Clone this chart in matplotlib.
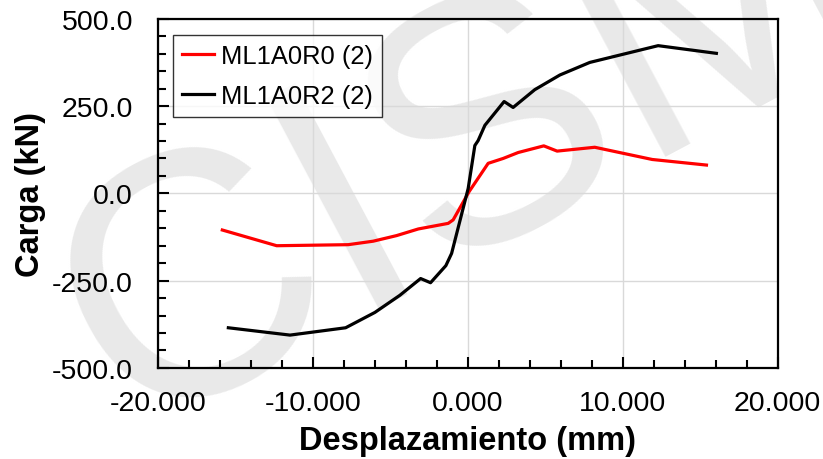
import matplotlib.pyplot as plt
from matplotlib.ticker import MultipleLocator, FormatStrFormatter

plt.rcParams['font.family'] = ['Liberation Sans', 'DejaVu Sans']

# curva carga-desplazamiento, muro ML1A0R0 (2)
r0_x = [-15.85, -12.34, -7.72, -6.11, -4.6, -3.2, -1.27, -0.95, 0.08, 1.31, 2.28, 3.25, 4.9, 5.76, 8.19, 11.9, 15.4]
r0_y = [-105, -150, -147, -137, -121, -102, -86, -76, 5, 86, 100, 117, 136, 121, 132, 97, 81]

# curva carga-desplazamiento, muro ML1A0R2 (2)
r2_x = [-15.46, -11.48, -7.89, -6.0, -4.39, -3.05, -2.41, -1.42, -1.05, 0.02, 0.45, 0.66, 1.1, 2.34, 2.92, 4.32, 5.94, 7.87, 12.28, 16.04]
r2_y = [-385, -406, -385, -341, -292, -244, -256, -207, -172, 14, 137, 151, 195, 263, 246, 297, 339, 375, 423, 401]

fig = plt.figure(figsize=(8.23, 4.6), dpi=100)

# marca de agua, detras de todo
fig.text(0.156, 0.057, 'CISM', fontsize=250, color='#e9e9e9', rotation=28,
         rotation_mode='anchor', ha='left', va='baseline', zorder=-1)

ax = fig.add_axes([0.192, 0.198, 0.753, 0.759])
ax.patch.set_alpha(0)

ax.plot(r0_x, r0_y, color='#ff0000', lw=2.3, label='ML1A0R0 (2)')
ax.plot(r2_x, r2_y, color='black', lw=2.3, label='ML1A0R2 (2)')

ax.set_xlim(-20, 20)
ax.set_ylim(-500, 500)
ax.xaxis.set_major_locator(MultipleLocator(10))
ax.xaxis.set_minor_locator(MultipleLocator(2))
ax.yaxis.set_major_locator(MultipleLocator(250))
ax.yaxis.set_minor_locator(MultipleLocator(50))
ax.xaxis.set_major_formatter(FormatStrFormatter('%.3f'))
ax.yaxis.set_major_formatter(FormatStrFormatter('%.1f'))

ax.grid(True, which='major', color='#d9d9d9', lw=1.0)
ax.set_axisbelow(True)
ax.tick_params(which='both', direction='in', width=1.5, labelsize=20.5)
ax.tick_params(which='major', length=8)
ax.tick_params(which='minor', length=6)
ax.tick_params(axis='y', which='major', pad=18)
ax.tick_params(axis='x', which='major', pad=16)
ax.tick_params(axis='y', which='both', right=False)
for s in ax.spines.values():
    s.set_linewidth(1.6)

ax.set_xlabel('Desplazamiento (mm)', fontsize=23.5, fontweight='bold')
ax.set_ylabel('Carga (kN)', fontsize=23.5, fontweight='bold')
ax.xaxis.set_label_coords(0.5, -0.163)
ax.yaxis.set_label_coords(-0.18, 0.5)

leg = ax.legend(loc='upper left', bbox_to_anchor=(0.024, 0.954), fontsize=18.4,
                frameon=True, fancybox=False, handlelength=1.25, handletextpad=0.27,
                borderpad=0.35, labelspacing=0.62, borderaxespad=0)
leg.get_frame().set_edgecolor('black')
leg.get_frame().set_linewidth(1.0)

plt.savefig('out.png', dpi=100)
plt.close()
